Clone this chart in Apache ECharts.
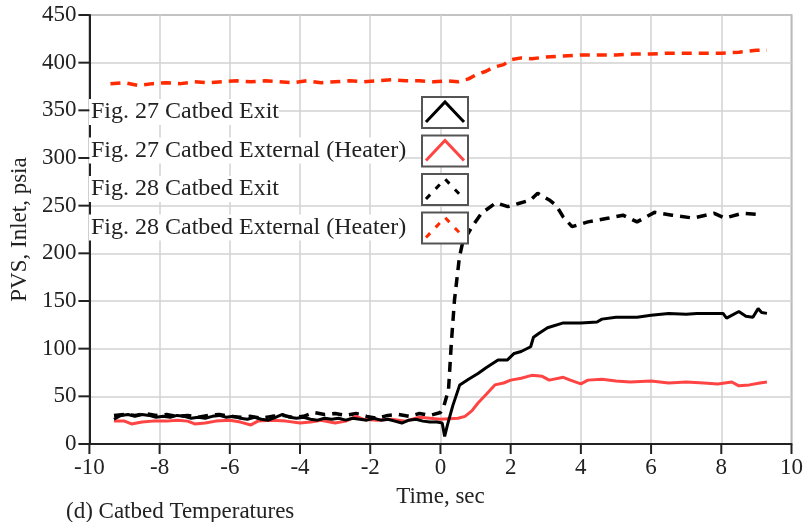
<!DOCTYPE html>
<html>
<head>
<meta charset="utf-8">
<script src="https://cdn.jsdelivr.net/npm/echarts@6/dist/echarts.min.js"></script>
<style>
  html, body { margin: 0; padding: 0; background: #fff; }
  #chart { width: 806px; height: 522px; }
</style>
</head>
<body>
<div id="chart"></div>
<script>
// 坐标轴
var xTicks = [-10, -8, -6, -4, -2, 0, 2, 4, 6, 8, 10];
var yTicks = [0, 50, 100, 150, 200, 250, 300, 350, 400, 450];

// 图例文字
var legendNames = [
    "Fig. 27 Catbed Exit",
    "Fig. 27 Catbed External (Heater)",
    "Fig. 28 Catbed Exit",
    "Fig. 28 Catbed External (Heater)"
];

// Fig. 27 Catbed Exit  [time, value]
var fig27Exit = [
    [-9.3,26],[-9.1,30],[-8.9,31],[-8.7,29],[-8.5,31],[-8.3,30],[-8.1,28],[-7.9,29],[-7.7,28],[-7.5,30],
    [-7.3,29],[-7.1,27],[-6.9,28],[-6.7,27],[-6.5,29],[-6.3,30],[-6.1,28],[-5.9,29],[-5.7,27],[-5.5,26],
    [-5.3,28],[-5.1,26],[-4.9,25],[-4.7,28],[-4.5,31],[-4.3,28],[-4.1,27],[-3.9,28],[-3.7,26],[-3.5,25],
    [-3.3,27],[-3.1,26],[-2.9,27],[-2.7,25],[-2.5,27],[-2.3,26],[-2.1,25],[-1.9,27],[-1.7,25],[-1.5,26],
    [-1.3,24],[-1.1,22],[-0.9,25],[-0.7,26],[-0.5,24],[-0.3,23],[-0.1,23],[0.05,22],[0.12,8],[0.2,20],
    [0.35,40],[0.55,62],[0.8,68],[1.07,74],[1.3,80],[1.64,88],[1.9,88],[2.1,95],[2.3,97],[2.57,102],
    [2.65,112],[2.8,116],[3.05,122],[3.5,127],[4.0,127],[4.46,128],[4.6,131],[5.0,133],[5.6,133],[6.0,135],
    [6.5,137],[7.0,136],[7.3,137],[8.05,137],[8.15,132],[8.5,139],[8.7,134],[8.9,133],[9.05,142],[9.15,138],[9.3,137]
];

// Fig. 27 Catbed External (Heater)
var fig27External = [
    [-9.3,24],[-9.0,24],[-8.8,21],[-8.5,23],[-8.2,24],[-7.8,24],[-7.5,25],[-7.2,24],[-7.0,21],[-6.7,22],
    [-6.4,24],[-6.0,25],[-5.7,23],[-5.4,20],[-5.2,24],[-4.8,25],[-4.4,24],[-4.0,22],[-3.7,23],[-3.4,25],
    [-3.0,22],[-2.7,24],[-2.4,29],[-2.2,26],[-1.8,25],[-1.4,26],[-1.0,24],[-0.6,28],[-0.3,27],[0,26],
    [0.5,27],[0.7,29],[0.9,35],[1.07,43],[1.3,52],[1.55,62],[1.8,64],[2.0,67],[2.3,69],[2.6,72],
    [2.9,71],[3.1,67],[3.5,70],[3.7,67],[4.0,63],[4.2,67],[4.6,68],[5.0,66],[5.4,65],[6.0,66],
    [6.5,64],[7.0,65],[7.5,64],[7.9,63],[8.3,65],[8.5,61],[8.8,62],[9.1,64],[9.3,65]
];

// Fig. 28 Catbed Exit
var fig28Exit = [
    [-9.3,30],[-9.0,31],[-8.7,30],[-8.4,32],[-8.1,30],[-7.8,31],[-7.5,29],[-7.2,30],[-6.9,28],[-6.6,30],
    [-6.3,31],[-6.0,29],[-5.7,28],[-5.4,29],[-5.1,27],[-4.8,29],[-4.5,30],[-4.2,28],[-3.9,29],[-3.6,33],
    [-3.3,31],[-3.0,32],[-2.7,30],[-2.4,32],[-2.1,29],[-1.8,27],[-1.5,30],[-1.2,31],[-0.9,29],[-0.6,32],
    [-0.3,30],[0,33],[0.1,40],[0.23,57],[0.31,106],[0.4,151],[0.54,196],[0.63,211],[0.9,228],[1.17,242],
    [1.58,253],[1.92,249],[2.2,252],[2.57,256],[2.77,263],[3.1,256],[3.3,250],[3.5,238],[3.75,228],[4.2,233],
    [4.8,237],[5.2,240],[5.6,233],[6.1,243],[6.6,240],[7.2,237],[7.8,242],[8.1,237],[8.6,242],[9.0,241]
];

// Fig. 28 Catbed External (Heater)
var fig28External = [
    [-9.4,378],[-9.0,379],[-8.6,376],[-8.2,378],[-7.8,379],[-7.4,378],[-7.0,380],[-6.6,379],[-6.2,380],[-5.8,381],
    [-5.4,380],[-5.0,381],[-4.6,380],[-4.2,379],[-3.8,381],[-3.4,379],[-3.0,380],[-2.6,381],[-2.2,380],[-1.8,381],
    [-1.4,382],[-1.0,381],[-0.6,381],[-0.2,380],[0.2,381],[0.5,380],[0.8,383],[1.0,387],[1.3,391],[1.5,395],
    [1.8,398],[2.0,403],[2.3,405],[2.6,404],[3.0,406],[3.5,407],[4.0,408],[4.5,408],[5.0,408],[5.5,409],
    [6.0,409],[6.5,410],[7.0,410],[7.5,410],[8.0,410],[8.5,411],[9.0,413],[9.3,413]
];

var FONT = '"Liberation Serif", "Times New Roman", serif';
var BLACK = '#000';
var RED = '#ff4444';
var RED2 = '#ff2a00';

// 图例（文字 + 右侧小框图标）
function drawLegend(){
    var items = [];
    var styles = [
        {color: BLACK, dash: null},
        {color: RED, dash: null},
        {color: BLACK, dash: [6, 8]},
        {color: RED2, dash: [6, 8]}
    ];
    var textW = [190, 314, 190, 314];
    for (var i = 0; i < legendNames.length; i++) {
        var top = 97 + i * 38.5;
        // 白色底，遮住网格线
        items.push({
            type: 'rect', z: 100,
            shape: {x: 89, y: top + 2, width: textW[i], height: 26},
            style: {fill: '#fff'}
        });
        items.push({
            type: 'text', z: 101,
            x: 91, y: top + 15,
            style: {
                text: legendNames[i],
                font: '24px ' + FONT,
                fill: '#222',
                textVerticalAlign: 'middle',
                verticalAlign: 'middle'
            }
        });
        items.push({
            type: 'rect', z: 100,
            shape: {x: 422, y: top, width: 46, height: 31},
            style: {fill: '#fff', stroke: '#555', lineWidth: 2}
        });
        items.push({
            type: 'polyline', z: 101,
            shape: {points: [[426, top + 25], [445, top + 5], [464, top + 25]]},
            style: {
                fill: null,
                stroke: styles[i].color,
                lineWidth: 3,
                lineDash: styles[i].dash
            }
        });
    }
    return items;
}

// 刻度线（画在轴外侧）
function toPx(chart, x, y){
    var p = null;
    try { p = chart.convertToPixel({seriesIndex: 0}, [x, y]); } catch (e) { p = null; }
    if (!p || isNaN(p[0]) || isNaN(p[1])) {
        // 备用：按网格尺寸换算
        p = [86 + (x + 10) / 20 * 710, 444 - y / 450 * 429];
    }
    return p;
}
function drawTicks(chart){
    var items = [];
    for (var i = 0; i < xTicks.length; i++) {
        var p = toPx(chart, xTicks[i], 0);
        items.push({type: 'rect', z: 120, shape: {x: p[0] - 1, y: p[1], width: 2, height: 10},
            style: {fill: '#222'}});
    }
    for (var j = 0; j < yTicks.length; j++) {
        var q = toPx(chart, -10, yTicks[j]);
        items.push({type: 'rect', z: 120, shape: {x: q[0] - 11, y: q[1] - 1, width: 11, height: 2},
            style: {fill: '#222'}});
    }
    return items;
}

var chart = echarts.init(document.getElementById('chart'), null, {renderer: 'canvas'});
var option = {
    animation: false,
    backgroundColor: '#fff',
    title: {
        text: '(d) Catbed Temperatures',
        left: 61,
        top: 495,
        textStyle: {fontFamily: FONT, fontSize: 23, fontWeight: 'normal', color: '#222'}
    },
    grid: {
        left: 86, right: 10, top: 15, bottom: 78,
        show: true, borderColor: '#777', borderWidth: 1.5
    },
    xAxis: {
        type: 'value',
        min: xTicks[0], max: xTicks[xTicks.length - 1], interval: 2,
        name: 'Time, sec',
        nameLocation: 'middle',
        nameGap: 41,
        nameTextStyle: {fontFamily: FONT, fontSize: 23, color: '#222'},
        axisLine: {onZero: false, lineStyle: {color: '#222', width: 2}},
        axisTick: {show: false},
        axisLabel: {fontFamily: FONT, fontSize: 23, color: '#222', margin: 12},
        splitLine: {show: true, lineStyle: {color: '#d2d2d2', width: 1.5}}
    },
    yAxis: {
        type: 'value',
        min: yTicks[0], max: yTicks[yTicks.length - 1], interval: 50,
        name: 'PVS, Inlet, psia',
        nameLocation: 'middle',
        nameGap: 56,
        nameTextStyle: {fontFamily: FONT, fontSize: 23, color: '#222'},
        axisLine: {show: true, onZero: false, lineStyle: {color: '#222', width: 2}},
        axisTick: {show: false},
        axisLabel: {fontFamily: FONT, fontSize: 23, color: '#222', margin: 13},
        splitLine: {show: true, lineStyle: {color: '#d2d2d2', width: 1.5}}
    },
    series: [
        {name: legendNames[3], type: 'line', data: fig28External, showSymbol: false,
         lineStyle: {color: RED2, width: 3.5, type: [10, 7]}},
        {name: legendNames[2], type: 'line', data: fig28Exit, showSymbol: false,
         lineStyle: {color: BLACK, width: 3.5, type: [10, 7]}},
        {name: legendNames[1], type: 'line', data: fig27External, showSymbol: false,
         lineStyle: {color: RED, width: 3}},
        {name: legendNames[0], type: 'line', data: fig27Exit, showSymbol: false,
         lineStyle: {color: BLACK, width: 3}}
    ]
};
chart.setOption(option, true);
chart.setOption({graphic: drawLegend().concat(drawTicks(chart))});
</script>
</body>
</html>
